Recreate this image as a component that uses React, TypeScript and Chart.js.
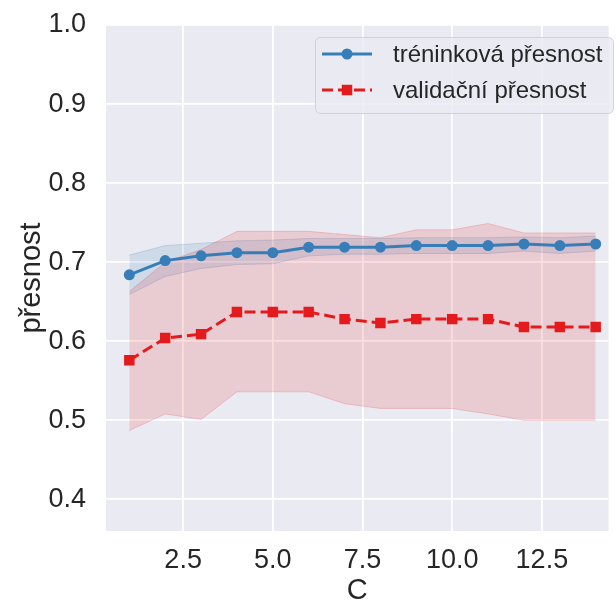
import React, { useEffect, useRef } from 'react';
import { Chart, registerables } from 'chart.js';

Chart.register(...registerables);

const C_VALUES = [1, 2, 3, 4, 5, 6, 7, 8, 9, 10, 11, 12, 13, 14];
const TRAIN_MEAN = [0.684, 0.702, 0.708, 0.712, 0.712, 0.719, 0.719, 0.719, 0.721, 0.721, 0.721, 0.723, 0.721, 0.723];
const TRAIN_UPPER = [0.709, 0.721, 0.724, 0.727, 0.728, 0.730, 0.730, 0.730, 0.731, 0.731, 0.731, 0.732, 0.731, 0.733];
const TRAIN_LOWER = [0.659, 0.682, 0.692, 0.697, 0.698, 0.708, 0.710, 0.710, 0.711, 0.711, 0.711, 0.714, 0.711, 0.714];
const VAL_MEAN = [0.576, 0.604, 0.609, 0.637, 0.637, 0.637, 0.628, 0.623, 0.628, 0.628, 0.628, 0.618, 0.618, 0.618];
const VAL_UPPER = [0.663, 0.700, 0.716, 0.739, 0.739, 0.739, 0.735, 0.731, 0.741, 0.741, 0.749, 0.737, 0.737, 0.737];
const VAL_LOWER = [0.487, 0.508, 0.501, 0.536, 0.536, 0.536, 0.521, 0.515, 0.515, 0.515, 0.508, 0.500, 0.500, 0.500];
const X_TICKS = [2.5, 5, 7.5, 10, 12.5];
const Y_TICKS = [0.4, 0.5, 0.6, 0.7, 0.8, 0.9, 1.0];
const LABEL_TRAIN = 'tréninková přesnost';
const LABEL_VAL = 'validační přesnost';
const X_TITLE = 'C';
const Y_TITLE = 'přesnost';

const BLUE = '#377eb8';
const RED = '#e41a1c';
const BLUE_BAND = 'rgba(55,126,184,0.15)';
const RED_BAND = 'rgba(228,26,28,0.15)';
const TEXT = '#262626';
const FONT = "'Liberation Sans', Arial, sans-serif";

const pts = (ys: number[]) => C_VALUES.map((x, i) => ({ x, y: ys[i] }));

const bgPlugin = {
  id: 'bgPlugin',
  beforeDraw(chart: any) {
    const { ctx, chartArea } = chart;
    ctx.save();
    ctx.fillStyle = '#eaeaf2';
    ctx.fillRect(chartArea.left, chartArea.top, chartArea.right - chartArea.left, chartArea.bottom - chartArea.top);
    ctx.restore();
  },
};

const legendPlugin = {
  id: 'customLegend',
  afterDraw(chart: any) {
    const { ctx } = chart;
    const items = chart.data.datasets.filter((d: any) => d.inLegend);
    const boxX = 315, boxY = 37, boxW = 298, boxH = 76;
    ctx.save();
    ctx.beginPath();
    ctx.roundRect(boxX + 0.5, boxY + 0.5, boxW, boxH, 5);
    ctx.fillStyle = 'rgba(234,234,242,0.8)';
    ctx.fill();
    ctx.strokeStyle = 'rgba(204,204,204,0.8)';
    ctx.lineWidth = 1;
    ctx.stroke();
    items.forEach((d: any, i: number) => {
      const cy = 54 + i * 36;
      const x0 = 322, x1 = 372, xm = 347;
      ctx.beginPath();
      ctx.setLineDash(d.borderDash || []);
      ctx.strokeStyle = d.borderColor;
      ctx.lineWidth = d.borderWidth;
      ctx.moveTo(x0, cy);
      ctx.lineTo(x1, cy);
      ctx.stroke();
      ctx.setLineDash([]);
      ctx.fillStyle = d.pointBackgroundColor;
      if (d.pointStyle === 'rect') {
        const s = d.pointRadius * Math.SQRT1_2;
        ctx.fillRect(xm - s, cy - s, 2 * s, 2 * s);
      } else {
        ctx.beginPath();
        ctx.arc(xm, cy, d.pointRadius, 0, Math.PI * 2);
        ctx.fill();
      }
      ctx.fillStyle = TEXT;
      ctx.font = `24px ${FONT}`;
      ctx.textBaseline = 'middle';
      ctx.textAlign = 'left';
      ctx.fillText(d.label, 393, cy + 1);
    });
    ctx.restore();
  },
};

export default function App() {
  const ref = useRef<HTMLCanvasElement>(null);
  useEffect(() => {
    const chart = new Chart(ref.current as HTMLCanvasElement, {
      type: 'line',
      data: {
        datasets: [
          {
            label: LABEL_TRAIN,
            inLegend: true,
            data: pts(TRAIN_MEAN),
            borderColor: BLUE,
            backgroundColor: BLUE,
            pointBackgroundColor: BLUE,
            pointBorderColor: BLUE,
            pointBorderWidth: 0,
            borderWidth: 3,
            pointRadius: 5.5,
            pointStyle: 'circle',
            fill: false,
            tension: 0,
          },
          {
            label: LABEL_VAL,
            inLegend: true,
            data: pts(VAL_MEAN),
            borderColor: RED,
            backgroundColor: RED,
            pointBackgroundColor: RED,
            pointBorderColor: RED,
            pointBorderWidth: 0,
            borderWidth: 3,
            borderDash: [11, 5],
            pointRadius: 7.4,
            pointStyle: 'rect',
            fill: false,
            tension: 0,
          },
          {
            label: 'val upper',
            data: pts(VAL_UPPER),
            borderColor: 'rgba(228,26,28,0.18)',
            borderWidth: 1,
            backgroundColor: RED_BAND,
            pointRadius: 0,
            fill: '+1',
            tension: 0,
          },
          {
            label: 'val lower',
            data: pts(VAL_LOWER),
            borderColor: 'rgba(228,26,28,0.18)',
            borderWidth: 1,
            pointRadius: 0,
            fill: false,
            tension: 0,
          },
          {
            label: 'train upper',
            data: pts(TRAIN_UPPER),
            borderColor: 'rgba(55,126,184,0.2)',
            borderWidth: 1,
            backgroundColor: BLUE_BAND,
            pointRadius: 0,
            fill: '+1',
            tension: 0,
          },
          {
            label: 'train lower',
            data: pts(TRAIN_LOWER),
            borderColor: 'rgba(55,126,184,0.2)',
            borderWidth: 1,
            pointRadius: 0,
            fill: false,
            tension: 0,
          },
        ] as any,
      },
      options: {
        responsive: true,
        maintainAspectRatio: false,
        animation: false,
        devicePixelRatio: 1,
        layout: { padding: { top: 25, right: 0, left: 0, bottom: 0 } },
        plugins: {
          legend: { display: false },
          tooltip: { enabled: false },
        },
        scales: {
          x: {
            type: 'linear',
            min: 0.35,
            max: 14.36,
            afterBuildTicks: (s: any) => {
              s.ticks = X_TICKS.map((v) => ({ value: v }));
            },
            afterFit: (s: any) => {
              s.height = 74;
              s.paddingLeft = 0;
              s.paddingRight = 0;
            },
            grid: { color: '#ffffff', lineWidth: 1.8, drawTicks: false },
            border: { display: false },
            ticks: {
              padding: 13,
              color: TEXT,
              font: { family: FONT, size: 27 },
              maxRotation: 0,
              autoSkip: false,
              callback: (v: any) => Number(v).toFixed(1),
            },
            title: {
              display: true,
              text: X_TITLE,
              color: TEXT,
              font: { family: FONT, size: 29, lineHeight: 1 },
              padding: 0,
            },
          },
          y: {
            type: 'linear',
            min: 0.36,
            max: 1.0,
            afterBuildTicks: (s: any) => {
              s.ticks = Y_TICKS.map((v) => ({ value: v }));
            },
            afterFit: (s: any) => {
              s.width = 106;
              s.paddingTop = 0;
              s.paddingBottom = 0;
            },
            grid: { color: '#ffffff', lineWidth: 1.8, drawTicks: false },
            border: { display: false },
            ticks: {
              padding: 20,
              color: TEXT,
              font: { family: FONT, size: 27 },
              autoSkip: false,
              callback: (v: any) => Number(v).toFixed(1),
            },
            title: {
              display: true,
              text: Y_TITLE,
              color: TEXT,
              font: { family: FONT, size: 29, lineHeight: 1.2 },
              padding: { top: 15, bottom: 0 },
            },
          },
        },
      } as any,
      plugins: [bgPlugin, legendPlugin],
    });
    return () => chart.destroy();
  }, []);
  return (
    <div style={{ position: 'fixed', left: 0, top: 0, width: 616, height: 605, background: '#ffffff' }}>
      <canvas ref={ref} />
    </div>
  );
}
